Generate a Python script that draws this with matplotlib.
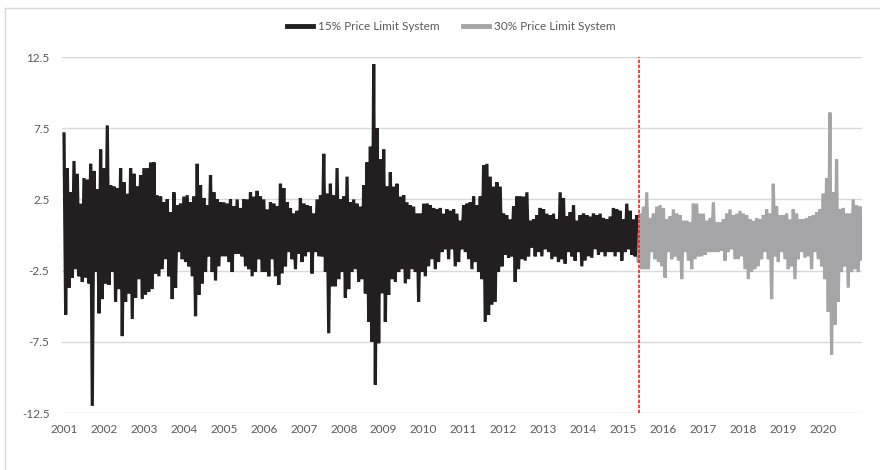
import numpy as np
import matplotlib.pyplot as plt
from matplotlib.lines import Line2D

# monthly high / low of the daily series (Jan..Dec per row)
monthly_high = [
    7.1, 4.7, 3.0, 5.2, 4.3, 2.2, 4.0, 3.9, 5.0, 4.5, 3.2, 6.0,   # 2001
    4.7, 7.7, 3.5, 3.4, 3.3, 4.7, 3.7, 2.9, 4.7, 4.3, 3.4, 4.2,   # 2002
    4.7, 4.7, 5.1, 5.1, 2.8, 2.7, 2.3, 2.5, 1.6, 3.0, 2.1, 2.2,   # 2003
    2.7, 2.8, 2.3, 2.7, 5.0, 3.5, 2.6, 2.1, 4.2, 3.0, 2.5, 2.3,   # 2004
    2.3, 2.2, 2.5, 2.0, 2.5, 1.9, 2.5, 2.5, 3.0, 2.7, 3.1, 2.7,   # 2005
    2.5, 1.8, 2.3, 2.2, 2.0, 3.6, 3.3, 2.3, 1.9, 1.5, 1.7, 2.6,   # 2006
    2.2, 2.1, 2.0, 1.5, 2.5, 2.8, 5.7, 2.9, 3.6, 2.8, 4.7, 2.5,   # 2007
    2.7, 4.1, 2.3, 2.5, 2.2, 2.0, 3.5, 5.1, 6.2, 12.0, 7.5, 5.3,  # 2008
    6.0, 3.4, 4.4, 3.4, 3.6, 2.7, 2.8, 2.3, 2.1, 2.0, 1.5, 1.5,   # 2009
    2.2, 2.2, 2.1, 1.9, 1.8, 1.9, 1.5, 1.8, 1.7, 1.8, 1.5, 1.0,   # 2010
    2.1, 2.2, 2.3, 2.7, 2.1, 2.7, 4.9, 5.0, 4.1, 3.4, 3.7, 3.4,   # 2011
    1.5, 1.4, 1.1, 2.0, 2.7, 2.7, 2.7, 3.0, 1.0, 1.1, 1.4, 1.9,   # 2012
    1.8, 1.5, 1.4, 1.5, 1.1, 3.0, 2.6, 1.3, 1.6, 2.1, 1.0, 1.4,   # 2013
    1.5, 1.4, 1.3, 1.5, 1.4, 1.5, 1.2, 1.1, 1.3, 1.9, 1.8, 1.7,   # 2014
    1.1, 2.2, 1.7, 1.1, 1.4, 1.5, 2.0, 3.0, 1.2, 1.5, 2.0, 2.1,   # 2015
    1.9, 1.1, 1.3, 1.8, 1.5, 1.4, 1.0, 1.0, 0.9, 2.2, 2.2, 1.5,   # 2016
    1.5, 1.0, 1.2, 2.3, 0.9, 0.9, 1.1, 1.5, 1.8, 1.4, 1.5, 1.7,   # 2017
    1.5, 1.4, 1.1, 1.0, 1.2, 1.1, 1.4, 1.8, 1.5, 3.6, 2.0, 1.4,   # 2018
    1.4, 1.5, 1.1, 1.8, 1.5, 1.1, 1.1, 1.2, 1.3, 1.4, 1.6, 1.8,   # 2019
    2.9, 4.0, 8.6, 3.0, 5.3, 1.8, 1.9, 1.5, 1.5, 2.5, 2.1, 2.0,   # 2020
]
monthly_low = [
    -5.6, -3.7, -3.0, -2.4, -2.9, -3.3, -3.0, -3.4, -12.0, -2.6, -5.5, -4.5,  # 2001
    -3.4, -3.5, -2.6, -4.7, -3.8, -7.1, -4.7, -4.1, -5.9, -4.4, -3.1, -4.5,   # 2002
    -4.2, -4.0, -3.8, -2.7, -2.9, -2.4, -1.7, -2.9, -4.5, -3.7, -1.2, -1.7,   # 2003
    -1.9, -2.2, -2.9, -5.7, -4.2, -3.4, -2.6, -1.5, -2.6, -3.2, -2.2, -1.5,   # 2004
    -1.5, -1.9, -2.6, -1.3, -1.3, -1.5, -2.2, -2.4, -2.9, -2.6, -1.7, -2.6,   # 2005
    -2.6, -2.9, -1.7, -2.9, -3.5, -2.7, -2.2, -1.2, -1.7, -2.4, -1.3, -1.9,   # 2006
    -1.5, -1.2, -2.7, -1.2, -1.5, -1.5, -2.6, -6.9, -3.6, -3.6, -3.1, -2.6,   # 2007
    -4.4, -3.8, -2.6, -2.4, -3.3, -3.1, -4.1, -6.1, -7.5, -10.5, -7.6, -4.1,  # 2008
    -6.1, -4.2, -3.1, -3.3, -2.6, -2.4, -3.4, -3.1, -2.4, -2.6, -4.7, -2.6,   # 2009
    -2.9, -2.2, -1.7, -2.4, -1.9, -1.2, -1.0, -1.7, -1.0, -2.2, -1.9, -1.0,   # 2010
    -1.2, -1.7, -2.4, -1.9, -2.6, -3.1, -6.1, -5.6, -4.9, -4.7, -2.6, -2.2,   # 2011
    -1.4, -1.6, -1.5, -3.3, -2.4, -1.7, -1.8, -1.5, -0.9, -1.5, -1.2, -1.5,   # 2012
    -1.0, -1.2, -1.7, -1.5, -1.9, -1.7, -2.0, -1.2, -1.5, -1.8, -1.2, -2.2,   # 2013
    -1.8, -1.5, -1.6, -1.0, -1.4, -1.2, -1.5, -1.2, -1.2, -1.5, -1.2, -1.8,   # 2014
    -1.2, -1.0, -1.4, -1.5, -1.8, -2.4, -2.4, -2.4, -1.2, -1.7, -1.9, -2.2,   # 2015
    -3.0, -1.2, -1.7, -1.5, -1.8, -3.1, -1.2, -1.8, -2.4, -1.7, -1.5, -1.5,   # 2016
    -1.4, -1.2, -1.2, -1.2, -1.2, -1.1, -1.8, -1.2, -1.0, -1.7, -1.7, -1.5,   # 2017
    -2.4, -3.1, -2.6, -2.4, -2.2, -1.7, -1.2, -1.7, -4.5, -1.5, -1.9, -1.2,   # 2018
    -1.7, -2.4, -2.2, -3.1, -1.7, -1.2, -1.6, -1.5, -2.4, -1.2, -1.7, -2.2,   # 2019
    -3.1, -5.4, -8.4, -6.3, -4.7, -2.6, -2.2, -3.7, -2.6, -2.4, -2.6, -1.7,   # 2020
]
year_labels = [str(y) for y in range(2001, 2021)]
y_ticks = [12.5, 7.5, 2.5, -2.5, -7.5, -12.5]
switch_date = 2015.4
series_names = ["15% Price Limit System", "30% Price Limit System"]

black = "#231f20"
gray = "#a5a5a8"
text_color = "#595959"

plt.rcParams["font.family"] = ["Lato", "DejaVu Sans"]

# each month: its high then its low, so the line zigzags like the daily data
months = np.arange(len(monthly_high))
t = np.empty(2 * len(months))
t[0::2] = 2001 + months / 12
t[1::2] = 2001 + (months + 0.5) / 12
vals = np.empty_like(t)
vals[0::2] = monthly_high
vals[1::2] = monthly_low

first = t < switch_date
split = np.argmax(~first)

fig = plt.figure(figsize=(8.8, 4.7), dpi=100)
ax = fig.add_axes([62 / 880, 1 - 413 / 470, 800 / 880, 356 / 470])

ax.plot(t[:split], vals[:split], color=black, lw=2.3, solid_joinstyle="miter")
ax.plot(t[split - 1:], vals[split - 1:], color=gray, lw=2.3, solid_joinstyle="miter")
ax.axvline(switch_date, color="#ff1a1a", lw=1.2, ls=(0, (2, 1)))

ax.set_xlim(2000.95, 2020.97)
ax.set_ylim(-12.5, 12.5)
ax.set_yticks(y_ticks)
ax.set_yticklabels([f"{v:g}" for v in y_ticks])
ax.set_xticks(range(2001, 2021))
ax.set_xticklabels(year_labels)
ax.tick_params(axis="both", length=0, labelsize=8.5, colors=text_color)
ax.tick_params(axis="y", pad=9)
ax.tick_params(axis="x", pad=8)
ax.grid(axis="y", color="#d9d9d9", lw=1)
ax.set_axisbelow(True)
for s in ax.spines.values():
    s.set_visible(False)

handles = [
    Line2D([], [], color=black, lw=3.5),
    Line2D([], [], color=gray, lw=3.5),
]
fig.legend(
    handles, series_names, loc="center", bbox_to_anchor=(0.513, 0.943),
    ncol=2, frameon=False, fontsize=8.5, labelcolor=text_color,
    handlelength=2.2, handletextpad=0.4, columnspacing=2.0,
)

# chart-area border (cropped on the right and bottom)
fig.add_artist(Line2D([5 / 880, 5 / 880], [0, 1 - 8 / 470], color="#d9d9d9", lw=1))
fig.add_artist(Line2D([5 / 880, 1], [1 - 8 / 470, 1 - 8 / 470], color="#d9d9d9", lw=1))

fig.savefig("out.png", dpi=100)
